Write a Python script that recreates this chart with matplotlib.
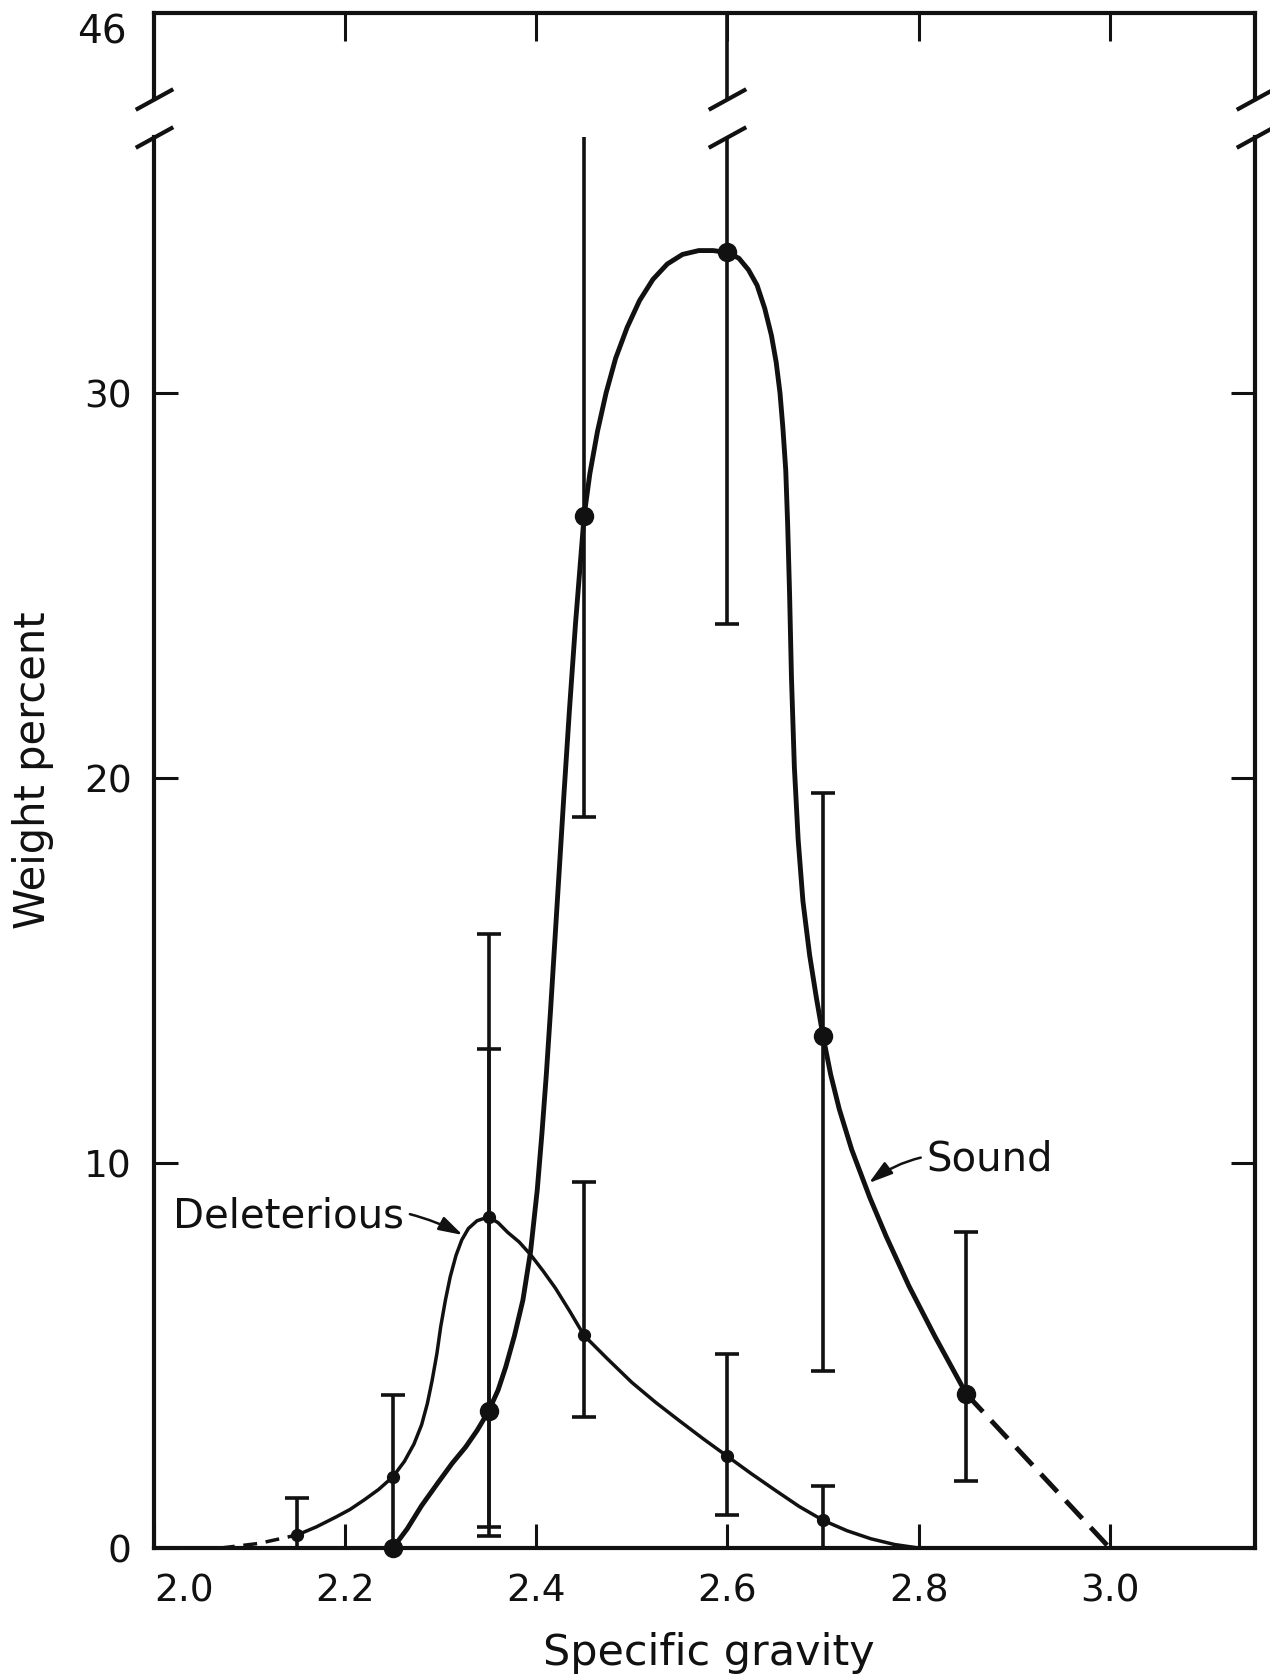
import numpy as np
import matplotlib
matplotlib.use("Agg")
import matplotlib.pyplot as plt

plt.rcParams['font.family'] = ['DejaVu Sans']

# measured points (specific gravity, weight percent)
sound_x = [2.25, 2.35, 2.45, 2.60, 2.70, 2.85]
sound_y = [0.0, 3.55, 26.8, 33.65, 13.3, 4.0]
sound_lo = [np.nan, 0.3, 19.0, 24.0, 4.6, 1.75]
sound_hi = [np.nan, 15.95, 36.9, 46.0, 19.6, 8.2]

del_x = [2.15, 2.25, 2.35, 2.45, 2.60, 2.70]
del_y = [0.34, 1.85, 8.6, 5.52, 2.38, 0.72]
del_lo = [0.0, 0.0, 0.55, 3.4, 0.85, 0.0]
del_hi = [1.3, 3.97, 12.95, 9.5, 5.03, 1.6]

# hand drawn curves
sound_curve_x = [2.25, 2.265, 2.28, 2.297, 2.312, 2.326, 2.338, 2.35, 2.36, 2.368,
                 2.377, 2.386, 2.394, 2.401, 2.406, 2.4105, 2.415, 2.4195, 2.424, 2.429,
                 2.4345, 2.441, 2.45, 2.456, 2.464, 2.473, 2.483, 2.495, 2.508, 2.522,
                 2.537, 2.553, 2.57, 2.585, 2.60, 2.612, 2.622, 2.631, 2.639, 2.646,
                 2.651, 2.655, 2.658, 2.661, 2.663, 2.665, 2.667, 2.670, 2.674, 2.679,
                 2.686, 2.693, 2.70, 2.708, 2.717, 2.73, 2.749, 2.766, 2.79, 2.817,
                 2.85]
sound_curve_y = [0.0, 0.5, 1.1, 1.69, 2.2, 2.62, 3.05, 3.55, 4.1, 4.7,
                 5.5, 6.44, 7.7, 9.3, 10.8, 12.3, 14.0, 15.8, 17.6, 19.6,
                 21.7, 24.0, 26.8, 27.9, 29.0, 30.0, 30.9, 31.7, 32.4, 32.95,
                 33.35, 33.6, 33.7, 33.7, 33.65, 33.5, 33.2, 32.8, 32.2, 31.5,
                 30.8, 30.0, 29.1, 28.0, 26.6, 24.8, 22.6, 20.3, 18.4, 16.8,
                 15.4, 14.3, 13.3, 12.3, 11.4, 10.35, 9.1, 8.1, 6.8, 5.5,
                 4.0]
sound_tail_x = [2.85, 3.0]
sound_tail_y = [4.0, 0.0]

del_curve_x = [2.15, 2.17, 2.19, 2.205, 2.22, 2.235, 2.25, 2.262, 2.272, 2.28,
               2.286, 2.291, 2.296, 2.30, 2.305, 2.31, 2.316, 2.322, 2.329, 2.338,
               2.35, 2.36, 2.37, 2.382, 2.394, 2.407, 2.42, 2.435, 2.45, 2.475,
               2.50, 2.525, 2.55, 2.575, 2.60, 2.625, 2.65, 2.675, 2.70, 2.725,
               2.75, 2.775, 2.80]
del_curve_y = [0.34, 0.55, 0.8, 1.0, 1.25, 1.52, 1.85, 2.25, 2.7, 3.2,
               3.75, 4.35, 5.05, 5.75, 6.45, 7.05, 7.6, 8.0, 8.3, 8.5,
               8.6, 8.45, 8.2, 7.95, 7.62, 7.2, 6.75, 6.15, 5.52, 4.9,
               4.3, 3.78, 3.3, 2.83, 2.38, 1.93, 1.5, 1.08, 0.72, 0.45,
               0.24, 0.09, 0.0]
del_tail_x = [2.07, 2.11, 2.15]
del_tail_y = [0.0, 0.12, 0.34]

xtick_vals = [2.0, 2.2, 2.4, 2.6, 2.8, 3.0]
xtick_labels = ['2.0', '2.2', '2.4', '2.6', '2.8', '3.0']
ytick_vals = [0, 10, 20, 30]
ytick_labels = ['0', '10', '20', '30']

ink = '#111111'
W, H = 1270, 1676
fig = plt.figure(figsize=(W / 100, H / 100), dpi=100)
left, right = 154 / W, 1255 / W
ax = fig.add_axes([left, 1 - 1548 / H, right - left, (1548 - 137) / H])
ax_top = fig.add_axes([left, 1 - 99 / H, right - left, (99 - 13) / H])

for a in (ax, ax_top):
    a.plot(sound_curve_x, sound_curve_y, color=ink, lw=3.5, solid_capstyle='round',
           solid_joinstyle='round')
    a.plot(sound_tail_x, sound_tail_y, color=ink, lw=3.5, dashes=(5, 2.5))
    a.plot(del_curve_x, del_curve_y, color=ink, lw=2.5, solid_joinstyle='round')
    a.plot(del_tail_x, del_tail_y, color=ink, lw=2.5, dashes=(4, 2.5))

    s_y = np.array(sound_y)
    a.errorbar(sound_x, sound_y, yerr=[s_y - np.array(sound_lo), np.array(sound_hi) - s_y],
               fmt='none', ecolor=ink, elinewidth=2.6, capsize=8.5, capthick=2.6)
    d_y = np.array(del_y)
    a.errorbar(del_x, del_y, yerr=[d_y - np.array(del_lo), np.array(del_hi) - d_y],
               fmt='none', ecolor=ink, elinewidth=2.6, capsize=8.5, capthick=2.6)

    a.set_xlim(2.0, 3.152)
    for s in a.spines.values():
        s.set_linewidth(3)
        s.set_color(ink)

# data points only live in the lower panel
ax.plot(sound_x, sound_y, 'o', color=ink, ms=13, clip_on=False, zorder=4)
ax.plot(del_x, del_y, 'o', color=ink, ms=8.5, clip_on=False, zorder=4)

ax.set_ylim(0, 36.65)
ax_top.set_ylim(43.77, 46.0)
ax.spines['top'].set_visible(False)
ax_top.spines['bottom'].set_visible(False)

# lower panel ticks
ax.set_xticks(xtick_vals)
xl = ax.set_xticklabels(xtick_labels)
xl[0].set_horizontalalignment('left')
ax.set_yticks(ytick_vals)
ax.set_yticklabels(ytick_labels)
ax.tick_params(axis='both', direction='in', length=17, width=2.2, labelsize=27,
               color=ink, labelcolor=ink)
ax.tick_params(axis='x', pad=18)
ax.tick_params(axis='y', right=True, pad=16)

# upper panel ticks
ax_top.set_xticks(xtick_vals[1:])
ax_top.tick_params(axis='x', direction='in', top=True, bottom=False, labelbottom=False,
                   length=20, width=2.2, color=ink)
ax_top.set_yticks([46])
ax_top.set_yticklabels(['46'], va='top')
ax_top.tick_params(axis='y', length=0, labelsize=28, pad=20, labelcolor=ink)

# break marks
brk = dict(marker=[(-1, -0.55), (1, 0.55)], markersize=27, linestyle='none',
           color=ink, mec=ink, mew=3, clip_on=False)
brk_x = [2.0, 2.6, 3.152]
ax.plot(brk_x, [36.65] * 3, **brk)
ax_top.plot(brk_x, [43.77] * 3, **brk)

# labels
ax.annotate('Deleterious', xy=(2.323, 8.13), xytext=(2.262, 8.62),
            ha='right', va='center', fontsize=29, color=ink,
            arrowprops=dict(arrowstyle='-|>,head_length=0.5,head_width=0.15', lw=1.8,
                            color=ink, connectionstyle='arc3,rad=-0.2',
                            shrinkA=2, shrinkB=0))
ax.annotate('Sound', xy=(2.748, 9.48), xytext=(2.808, 10.08),
            ha='left', va='center', fontsize=29, color=ink,
            arrowprops=dict(arrowstyle='-|>,head_length=0.5,head_width=0.15', lw=1.8,
                            color=ink, connectionstyle='arc3,rad=0.25',
                            shrinkA=2, shrinkB=0))

fig.text(709 / W, 1 - 1653 / H, 'Specific gravity', ha='center', va='center',
         fontsize=31, color=ink)
fig.text(33 / W, 1 - 770 / H, 'Weight percent', ha='center', va='center',
         rotation=90, fontsize=30, color=ink)

fig.savefig('out.png', dpi=100, facecolor='white')
